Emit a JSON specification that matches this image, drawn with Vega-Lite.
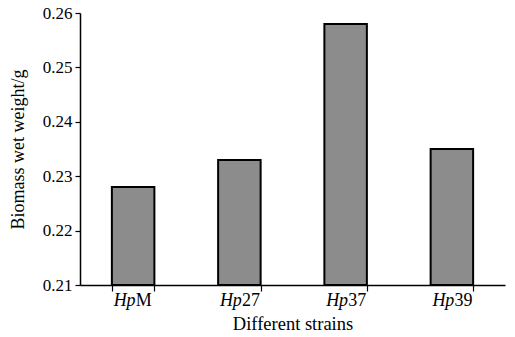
{
  "$schema": "https://vega.github.io/schema/vega-lite/v6.json",
  "width": 425,
  "height": 272,
  "autosize": {"type": "none"},
  "padding": {"left": 80, "top": 13, "right": 10, "bottom": 52},
  "background": "white",
  "config": {
    "view": {"stroke": null},
    "font": "Liberation Serif",
    "style": {"guide-title": {"font": "Liberation Serif", "fontWeight": "normal", "fontSize": 18}, "guide-label": {"font": "Liberation Serif"}},
    "axis": {"domainColor": "black", "tickColor": "black", "labelColor": "black", "titleColor": "black", "grid": false, "labelFont": "Liberation Serif", "titleFont": "Liberation Serif", "titleFontWeight": "normal", "titleFontSize": 18, "domainWidth": 1.5, "tickWidth": 1.2}
  },
  "data": {"values": [
    {"strain": "HpM", "prefix": "Hp", "suffix": "M", "weight": 0.228},
    {"strain": "Hp27", "prefix": "Hp", "suffix": "27", "weight": 0.233},
    {"strain": "Hp37", "prefix": "Hp", "suffix": "37", "weight": 0.258},
    {"strain": "Hp39", "prefix": "Hp", "suffix": "39", "weight": 0.235}
  ]},
  "encoding": {
    "x": {"field": "strain", "type": "nominal", "sort": null,
      "scale": {"paddingInner": 0.6, "paddingOuter": 0.3},
      "axis": {"title": "Different strains", "titleFont": "Liberation Serif", "titleFontSize": 18.5, "titleFontWeight": "normal", "titlePadding": 23, "labels": false, "ticks": true, "tickBand": "extent", "tickSize": 6, "tickColor": "black", "tickWidth": 1.2, "domainWidth": 1.5}}
  },
  "layer": [
    {
      "mark": {"type": "bar", "fill": "#8c8c8c", "stroke": "black", "strokeWidth": 2},
      "encoding": {
        "y": {"field": "weight", "type": "quantitative",
          "scale": {"domain": [0.21, 0.26], "zero": false, "nice": false},
          "axis": {"title": "Biomass wet weight/g", "titleFont": "Liberation Serif", "titleFontSize": 18, "titleFontWeight": "normal", "titlePadding": 15, "labelFontSize": 17, "values": [0.21, 0.22, 0.23, 0.24, 0.25, 0.26], "format": ".2f", "tickSize": 5, "labelPadding": 3}},
        "y2": {"datum": 0.21}
      }
    },
    {
      "mark": {"type": "text", "font": "Liberation Serif", "fontStyle": "italic", "fontSize": 18, "align": "right", "baseline": "alphabetic", "dx": 2.5, "dy": 21, "color": "black"},
      "encoding": {"text": {"field": "prefix"}, "y": {"datum": 0.21}}
    },
    {
      "mark": {"type": "text", "font": "Liberation Serif", "fontSize": 18, "align": "left", "baseline": "alphabetic", "dx": 2.5, "dy": 21, "color": "black"},
      "encoding": {"text": {"field": "suffix"}, "y": {"datum": 0.21}}
    }
  ]
}
